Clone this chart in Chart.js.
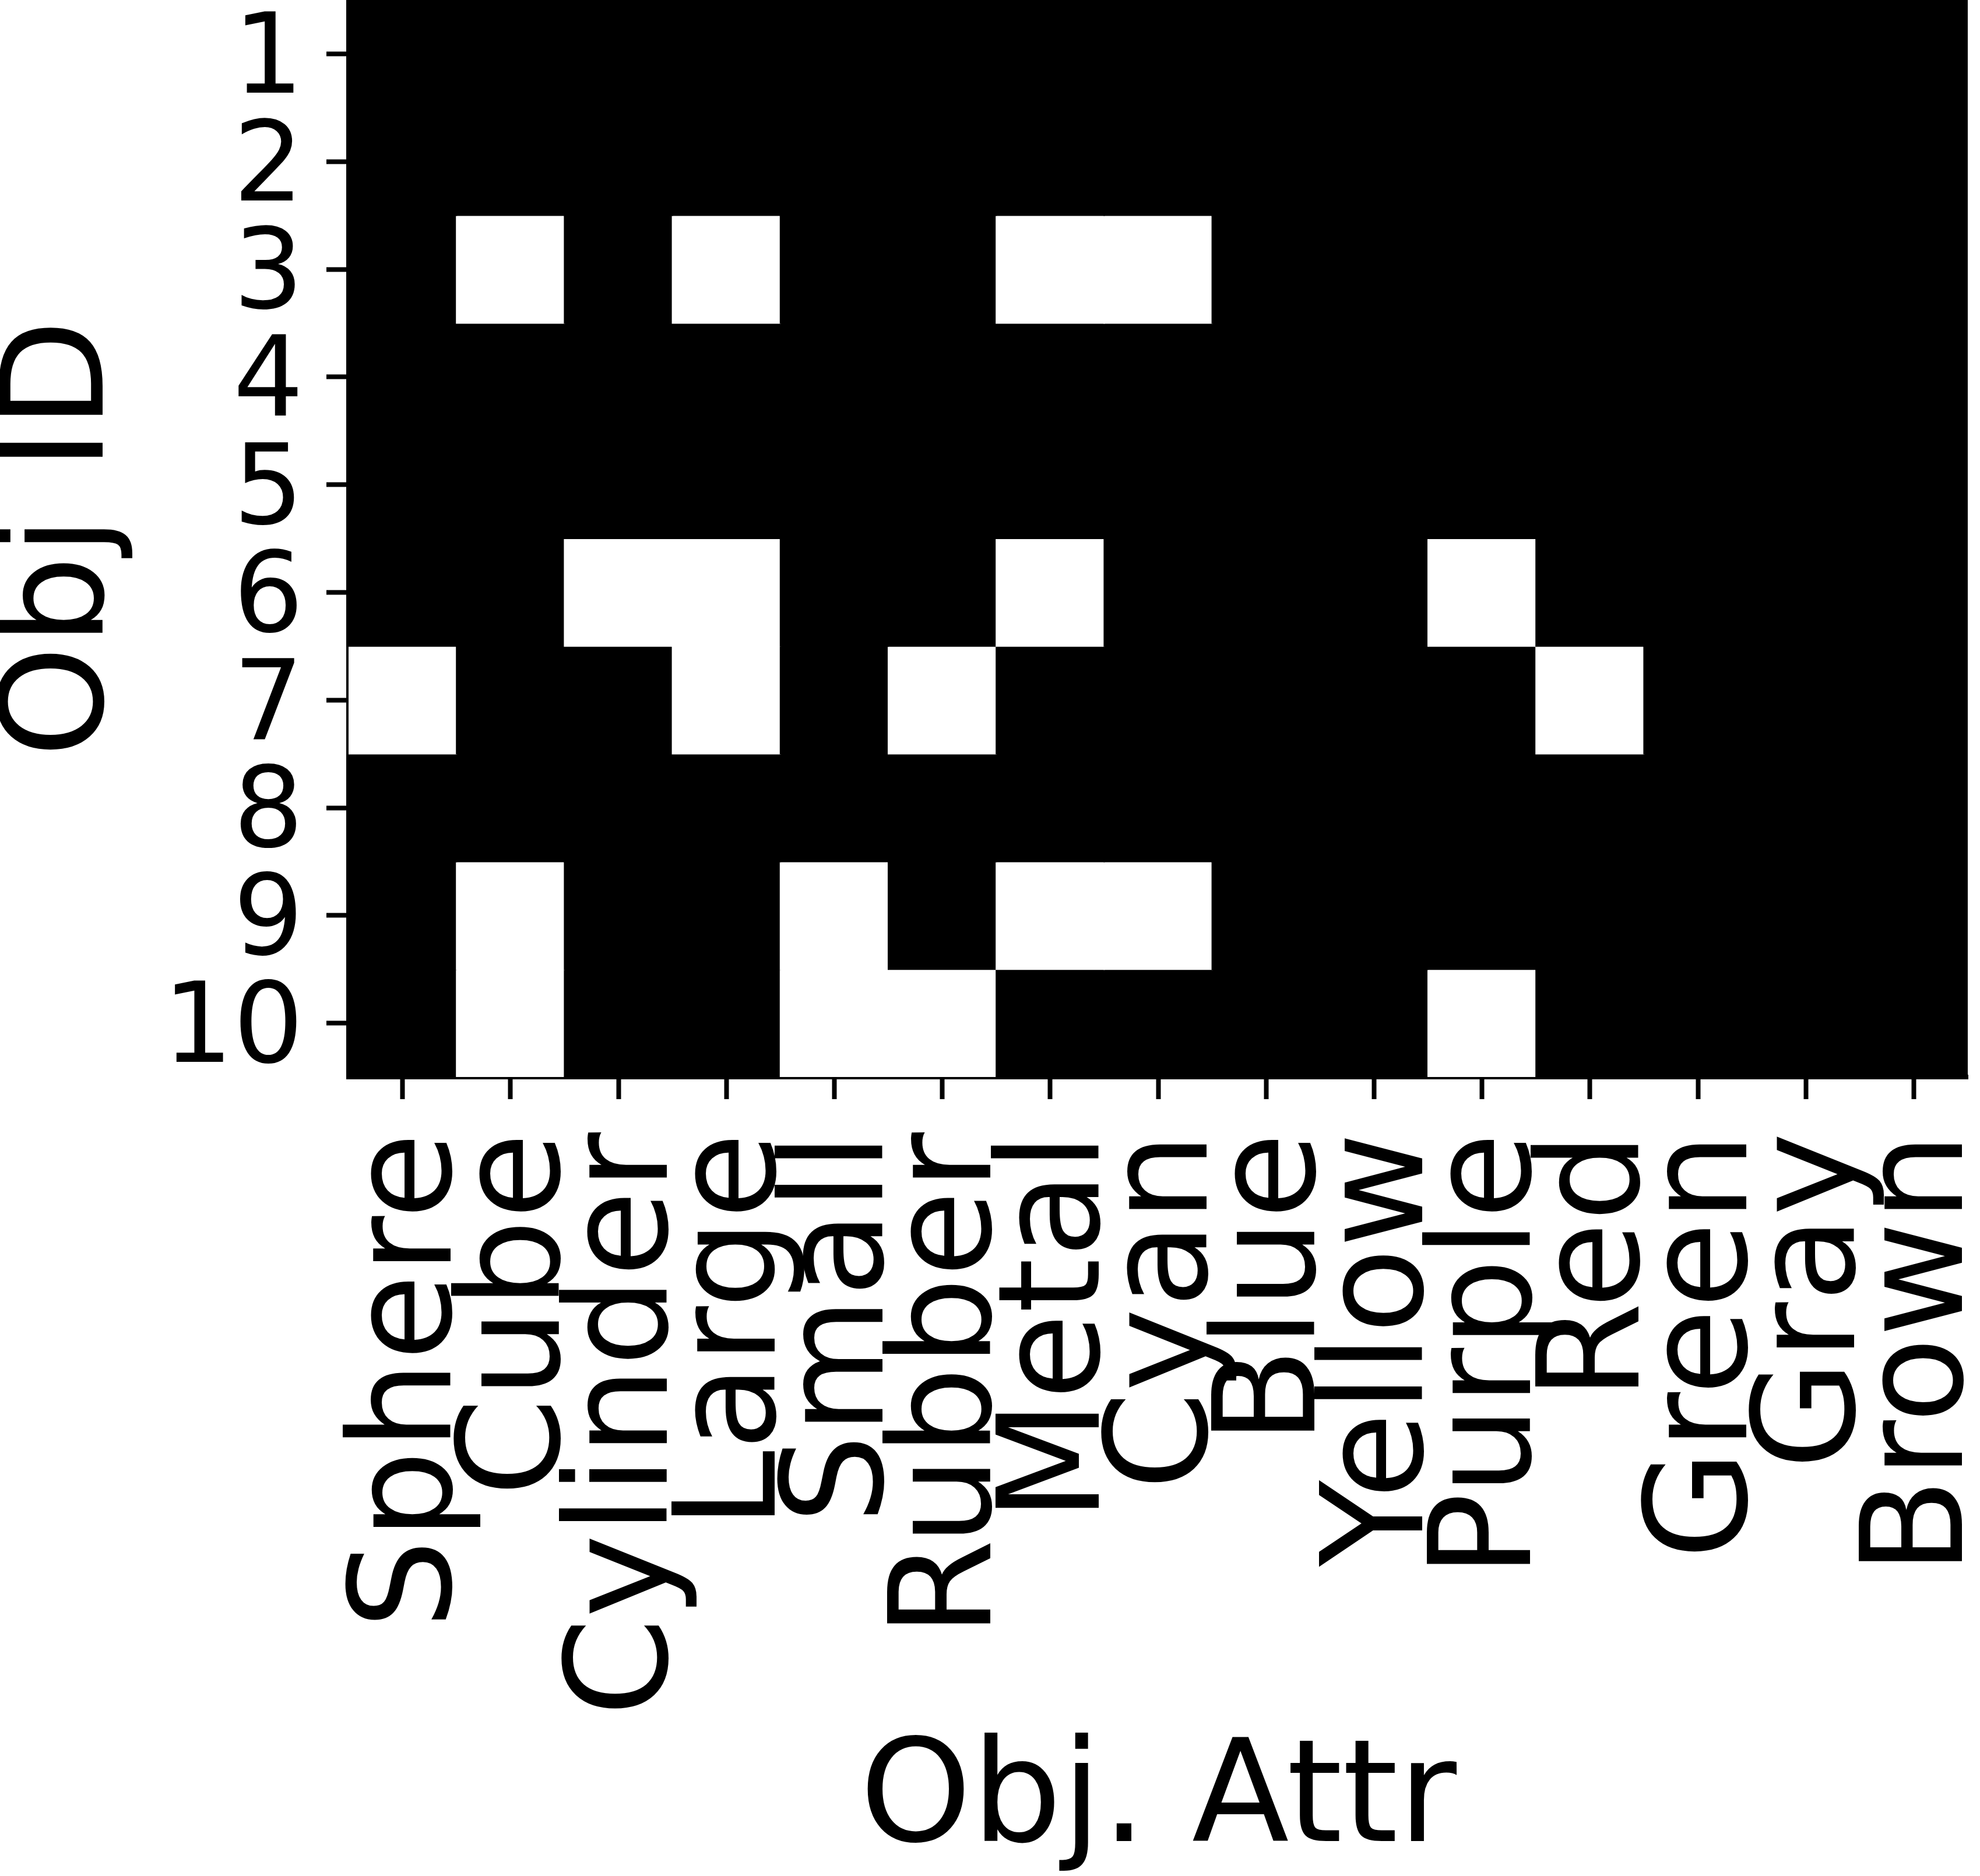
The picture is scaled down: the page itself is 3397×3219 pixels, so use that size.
<!DOCTYPE html>
<html>
<head>
<meta charset="utf-8">
<script src="https://cdn.jsdelivr.net/npm/chart.js@4/dist/chart.umd.min.js"></script>
<style>
  html, body { margin: 0; padding: 0; background: #ffffff; }
  #wrap { width: 3397px; height: 3219px; }
</style>
</head>
<body>
<div id="wrap"><canvas id="c" width="3397" height="3219"></canvas></div>
<script>
// ---- data ----
const attrs = ['Sphere', 'Cube', 'Cylinder', 'Large', 'Small', 'Rubber', 'Metal', 'Cyan',
               'Blue', 'Yellow', 'Purple', 'Red', 'Green', 'Gray', 'Brown'];
const objIds = ['1', '2', '3', '4', '5', '6', '7', '8', '9', '10'];
const obj1  = [0, 0, 0, 0, 0, 0, 0, 0, 0, 0, 0, 0, 0, 0, 0];
const obj2  = [0, 0, 0, 0, 0, 0, 0, 0, 0, 0, 0, 0, 0, 0, 0];
const obj3  = [0, 1, 0, 1, 0, 0, 1, 1, 0, 0, 0, 0, 0, 0, 0];
const obj4  = [0, 0, 0, 0, 0, 0, 0, 0, 0, 0, 0, 0, 0, 0, 0];
const obj5  = [0, 0, 0, 0, 0, 0, 0, 0, 0, 0, 0, 0, 0, 0, 0];
const obj6  = [0, 0, 1, 1, 0, 0, 1, 0, 0, 0, 1, 0, 0, 0, 0];
const obj7  = [1, 0, 0, 1, 0, 1, 0, 0, 0, 0, 0, 1, 0, 0, 0];
const obj8  = [0, 0, 0, 0, 0, 0, 0, 0, 0, 0, 0, 0, 0, 0, 0];
const obj9  = [0, 1, 0, 0, 1, 0, 1, 1, 0, 0, 0, 0, 0, 0, 0];
const obj10 = [0, 1, 0, 0, 1, 1, 0, 0, 0, 0, 1, 0, 0, 0, 0];
const xTitle = 'Obj. Attr';
const yTitle = 'Obj ID';

const rows = [obj1, obj2, obj3, obj4, obj5, obj6, obj7, obj8, obj9, obj10];

const datasets = rows.map((row, i) => ({
  label: 'Obj ' + objIds[i],
  data: row.map(() => [i - 0.5, i + 0.5]),
  backgroundColor: row.map(v => (v ? '#ffffff' : '#000000')),
  borderWidth: 0,
  grouped: false,
  barPercentage: 1,
  categoryPercentage: 1,
  inflateAmount: 1
}));

const FONT = "'DejaVu Sans', 'Liberation Sans', sans-serif";

new Chart(document.getElementById('c'), {
  type: 'bar',
  data: { labels: attrs, datasets: datasets },
  options: {
    responsive: false,
    devicePixelRatio: 1,
    animation: false,
    events: [],
    layout: { padding: { left: 0, right: 21, top: 0, bottom: 0 } },
    plugins: { legend: { display: false }, tooltip: { enabled: false }, title: { display: false } },
    scales: {
      x: {
        type: 'category',
        offset: true,
        z: 1,
        grid: {
          offset: false,
          drawOnChartArea: false,
          drawTicks: true,
          tickLength: 38,
          tickWidth: 8,
          tickColor: '#000000'
        },
        border: { display: true, color: '#000000', width: 8 },
        ticks: {
          autoSkip: false,
          minRotation: 90,
          maxRotation: 90,
          padding: 57,
          labelOffset: 20,
          color: '#000000',
          font: { family: FONT, size: 242, lineHeight: 1.0 }
        },
        title: {
          display: true,
          text: xTitle,
          color: '#000000',
          padding: { top: 0, bottom: 1 },
          font: { family: FONT, size: 244, lineHeight: 1.0 }
        },
        afterFit: (s) => { s.paddingLeft = 0; s.paddingRight = 0; s.height = 1371; }
      },
      y: {
        type: 'linear',
        min: -0.5,
        max: 9.5,
        reverse: true,
        z: 1,
        afterBuildTicks: (s) => { s.ticks = objIds.map((_, i) => ({ value: i })); },
        grid: {
          drawOnChartArea: false,
          drawTicks: true,
          tickLength: 38,
          tickWidth: 8,
          tickColor: '#000000'
        },
        border: { display: true, color: '#000000', width: 8 },
        ticks: {
          autoSkip: false,
          padding: 39,
          labelOffset: 17,
          color: '#000000',
          font: { family: FONT, size: 190, lineHeight: 1.2 },
          callback: (v) => objIds[v]
        },
        title: {
          display: true,
          text: yTitle,
          color: '#000000',
          padding: { top: 0, bottom: 0 },
          font: { family: FONT, size: 244, lineHeight: 0.92 }
        },
        afterFit: (s) => { s.paddingTop = 0; s.paddingBottom = 0; s.width = 598; }
      }
    }
  }
});
</script>
</body>
</html>
